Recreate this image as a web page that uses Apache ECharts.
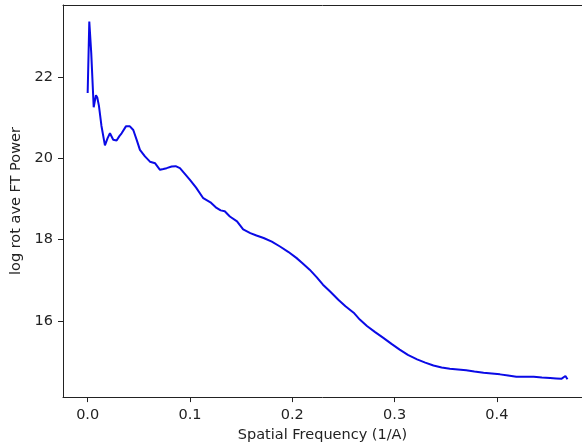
<!DOCTYPE html>
<html>
<head>
<meta charset="utf-8">
<script src="https://cdn.jsdelivr.net/npm/echarts@6/dist/echarts.min.js"></script>
<style>html,body{margin:0;padding:0;background:#fff;overflow:hidden;}#c{width:582px;height:448px;}</style>
</head>
<body>
<div id="c"></div>
<script>
const freq = [0.000,0.0016,0.0035,0.0059,0.0081,0.0094,0.0110,0.0135,0.0169,0.0195,0.0218,0.025,0.0283,0.0310,0.0332,0.0374,0.0413,0.0446,0.0480,0.0511,0.056,0.0609,0.066,0.0707,0.0740,0.0772,0.0821,0.0860,0.0902,0.095,0.100,0.106,0.113,0.120,0.126,0.130,0.134,0.139,0.146,0.152,0.159,0.165,0.172,0.180,0.188,0.196,0.204,0.210,0.217,0.224,0.230,0.237,0.245,0.252,0.260,0.266,0.273,0.281,0.289,0.297,0.305,0.313,0.322,0.330,0.338,0.346,0.354,0.362,0.370,0.378,0.387,0.395,0.403,0.411,0.419,0.427,0.436,0.444,0.452,0.458,0.463,0.467,0.469];
const power = [21.61,23.37,22.6,21.26,21.56,21.50,21.30,20.80,20.32,20.50,20.62,20.46,20.44,20.55,20.62,20.79,20.79,20.70,20.45,20.21,20.05,19.92,19.88,19.72,19.74,19.76,19.80,19.81,19.76,19.62,19.47,19.28,19.02,18.92,18.78,18.72,18.70,18.57,18.45,18.25,18.16,18.10,18.04,17.95,17.83,17.70,17.55,17.42,17.26,17.07,16.89,16.72,16.52,16.36,16.20,16.03,15.87,15.72,15.58,15.43,15.29,15.16,15.05,14.97,14.90,14.85,14.82,14.80,14.78,14.75,14.72,14.70,14.68,14.65,14.62,14.62,14.62,14.60,14.59,14.58,14.57,14.64,14.56];
const xTicks = [0.0,0.1,0.2,0.3,0.4];
const yTicks = [16,18,20,22];
const xLabel = 'Spatial Frequency (1/A)';
const yLabel = 'log rot ave FT Power';

const data = freq.map((f,i)=>[f,power[i]]);
const font = 'DejaVu Sans';
const fs = 14.5;
const chart = echarts.init(document.getElementById('c'), null, {renderer:'canvas'});
chart.setOption({
  animation:false,
  backgroundColor:'#fff',
  grid:{left:63,right:0,top:5,bottom:50,show:false},
  xAxis:[{
    type:'value',min:-0.0241,max:0.4832,position:'bottom',
    name:xLabel,nameLocation:'middle',nameGap:30,
    nameTextStyle:{fontFamily:font,fontSize:fs,color:'#222'},
    axisLine:{show:true,onZero:false,lineStyle:{color:'#222',width:1}},
    axisTick:{show:true,length:5,inside:false,customValues:xTicks,lineStyle:{color:'#222'}},
    axisLabel:{customValues:xTicks,margin:11,fontFamily:font,fontSize:fs,color:'#222',formatter:v=>v.toFixed(1)},
    splitLine:{show:false}
  },{
    type:'value',min:-0.0241,max:0.4832,position:'top',
    axisLine:{show:true,onZero:false,lineStyle:{color:'#222',width:1}},
    axisTick:{show:false},axisLabel:{show:false},splitLine:{show:false}
  }],
  yAxis:{
    type:'value',min:14.12,max:23.78,
    name:yLabel,nameLocation:'middle',nameGap:37,nameRotate:90,
    nameTextStyle:{fontFamily:font,fontSize:fs,color:'#222'},
    axisLine:{show:true,onZero:false,lineStyle:{color:'#222',width:1}},
    axisTick:{show:true,length:5,customValues:yTicks,lineStyle:{color:'#222'}},
    axisLabel:{customValues:yTicks,margin:10,fontFamily:font,fontSize:fs,color:'#222'},
    splitLine:{show:false}
  },
  series:[{
    type:'line',data:data,showSymbol:false,symbol:'none',xAxisIndex:0,
    lineStyle:{color:'#0a0ae6',width:2},
    clip:true
  }]
});
</script>
</body>
</html>
